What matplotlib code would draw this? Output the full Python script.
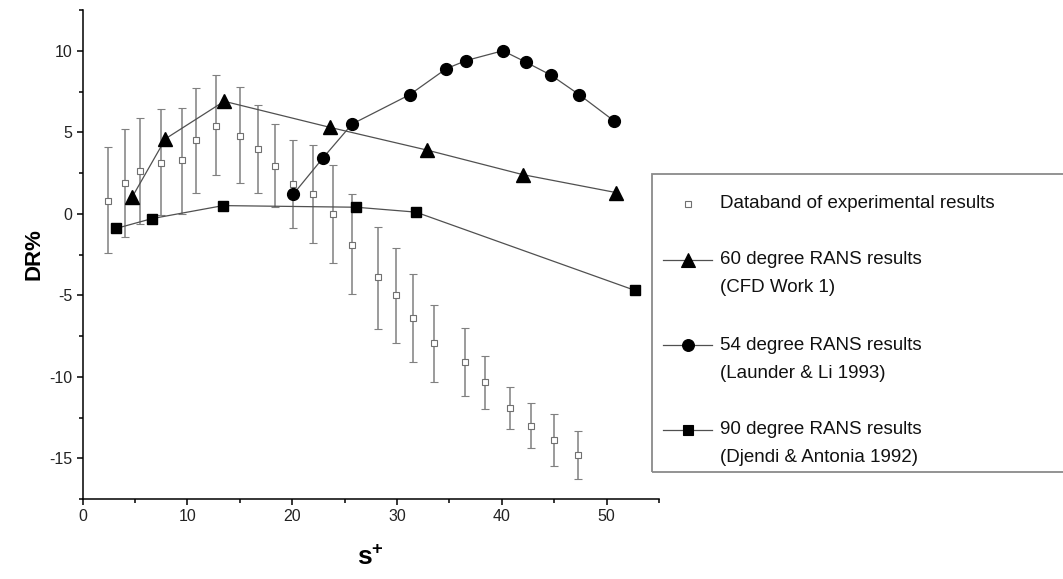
import matplotlib
matplotlib.use("Agg")
import matplotlib.pyplot as plt
from matplotlib.lines import Line2D
from matplotlib.patches import Rectangle
from matplotlib.ticker import MultipleLocator

plt.rcParams['font.family'] = ['Liberation Sans', 'DejaVu Sans']
plt.rcParams['mathtext.fontset'] = 'custom'
plt.rcParams['mathtext.bf'] = 'Liberation Sans:bold'
plt.rcParams['mathtext.rm'] = 'Liberation Sans'
plt.rcParams['axes.unicode_minus'] = False

# experimental data band
exp_s = [2.4, 4.0, 5.5, 7.5, 9.5, 10.8, 12.7, 15.0, 16.7, 18.4, 20.1, 22.0,
         23.9, 25.7, 28.2, 29.9, 31.5, 33.5, 36.5, 38.4, 40.8, 42.8, 45.0, 47.3]
exp_dr = [0.8, 1.9, 2.6, 3.1, 3.3, 4.5, 5.4, 4.8, 4.0, 2.9, 1.8, 1.2,
          0.0, -1.9, -3.9, -5.0, -6.4, -7.9, -9.1, -10.3, -11.9, -13.0, -13.9, -14.8]
exp_hi = [4.1, 5.2, 5.9, 6.4, 6.5, 7.7, 8.5, 7.8, 6.7, 5.5, 4.5, 4.2,
          3.0, 1.2, -0.8, -2.1, -3.7, -5.6, -7.0, -8.7, -10.6, -11.6, -12.3, -13.3]
exp_lo = [-2.4, -1.4, -0.6, -0.1, 0.0, 1.3, 2.4, 1.9, 1.3, 0.4, -0.9, -1.8,
          -3.0, -4.9, -7.1, -7.9, -9.1, -10.3, -11.2, -12.0, -13.2, -14.4, -15.5, -16.3]

# 60 degree RANS (CFD Work 1)
s60 = [4.7, 7.9, 13.5, 23.6, 32.9, 42.0, 50.9]
dr60 = [1.0, 4.6, 6.9, 5.3, 3.9, 2.4, 1.3]

# 54 degree RANS (Launder & Li 1993)
s54 = [20.1, 22.9, 25.7, 31.2, 34.7, 36.6, 40.1, 42.3, 44.7, 47.4, 50.7]
dr54 = [1.2, 3.4, 5.5, 7.3, 8.9, 9.4, 10.0, 9.3, 8.5, 7.3, 5.7]

# 90 degree RANS (Djendi & Antonia 1992)
s90 = [3.2, 6.6, 13.4, 26.1, 31.8, 52.7]
dr90 = [-0.9, -0.3, 0.5, 0.4, 0.1, -4.7]

W, H = 1063, 579
fig = plt.figure(figsize=(W / 100, H / 100), dpi=100)
ax = fig.add_axes([82.7 / W, 1 - 499 / H, (659 - 82.7) / W, (499 - 10) / H])

line_c = '#505050'
ax.errorbar(exp_s, exp_dr,
            yerr=[[d - l for d, l in zip(exp_dr, exp_lo)],
                  [h - d for d, h in zip(exp_dr, exp_hi)]],
            fmt='s', ms=3.8, mfc='white', mec='#707070', mew=0.8,
            ecolor='#808080', elinewidth=1.1, capsize=2.6, capthick=1.1, zorder=2)
ax.plot(s60, dr60, '-^', color=line_c, lw=0.9, ms=10, mfc='black', mec='black', zorder=3)
ax.plot(s54, dr54, '-o', color=line_c, lw=0.9, ms=8.5, mfc='black', mec='black', zorder=3)
ax.plot(s90, dr90, '-s', color=line_c, lw=0.9, ms=7.5, mfc='black', mec='black', zorder=3)

ax.set_xlim(0, 55)
ax.set_ylim(-17.5, 12.5)
ax.xaxis.set_major_locator(MultipleLocator(10))
ax.xaxis.set_minor_locator(MultipleLocator(5))
ax.yaxis.set_major_locator(MultipleLocator(5))
ax.yaxis.set_minor_locator(MultipleLocator(2.5))
for side in ['top', 'right']:
    ax.spines[side].set_visible(False)
for side in ['left', 'bottom']:
    ax.spines[side].set_linewidth(1.1)
ax.tick_params(which='major', direction='out', length=4, width=1.1, labelsize=11.5,
               labelcolor='#222222')
ax.tick_params(which='minor', direction='out', length=3, width=1.1)
ax.set_xticks([0, 10, 20, 30, 40, 50])
ax.set_xticklabels(['0', '10', '20', '30', '40', '50'])

ax.set_ylabel('DR%', fontsize=16, fontweight='bold', labelpad=3)
ax.set_xlabel(r'$\mathbf{s^{+}}$', fontsize=19, labelpad=15)

# legend box drawn by hand in pixel positions
def fx(px):
    return px / W

def fy(py):
    return 1 - py / H

fig.add_artist(Rectangle((fx(652), fy(472)), fx(1080) - fx(652), fy(174) - fy(472),
                         transform=fig.transFigure, fill=False, ec='#8a8a8a', lw=1.3))

entries = [
    ('s', 3.8, 'white', '#707070', False, ['Databand of experimental results'], 204),
    ('^', 10, 'black', 'black', True, ['60 degree RANS results', '(CFD Work 1)'], 260),
    ('o', 8.5, 'black', 'black', True, ['54 degree RANS results', '(Launder & Li 1993)'], 345),
    ('s', 7.5, 'black', 'black', True, ['90 degree RANS results', '(Djendi & Antonia 1992)'], 430),
]
for marker, ms, mfc, mec, with_line, lines, y0 in entries:
    if with_line:
        fig.add_artist(Line2D([fx(663), fx(712)], [fy(y0), fy(y0)],
                              transform=fig.transFigure, color=line_c, lw=0.9))
    fig.add_artist(Line2D([fx(688)], [fy(y0)], transform=fig.transFigure,
                          marker=marker, ms=ms, mfc=mfc, mec=mec, mew=0.8, ls='none'))
    for i, t in enumerate(lines):
        fig.text(fx(720), fy(y0 + 28 * i), t, fontsize=13.5, va='center', ha='left',
                 color='#111111')

fig.savefig('out.png', dpi=100)
